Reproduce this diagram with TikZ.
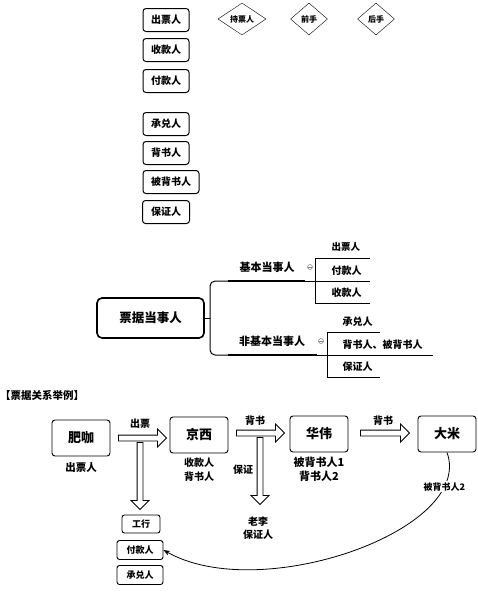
\documentclass[tikz,border=0pt]{standalone}
\usepackage{fontspec}
\setmainfont{Noto Sans CJK SC}
\usetikzlibrary{positioning, shapes.geometric, shapes.arrows, arrows.meta}
\tikzset{
    x=1pt, y=-1pt, % one unit is one pixel of the reference, y runs down
    every node/.style={font=\fontsize{10}{13}\selectfont\bfseries}, % bold sans for every text
    role/.style={draw, line width=1pt, rounded corners=3pt, minimum width=46pt, minimum height=23pt, inner sep=1pt}, % boxes of the list on top
    gate/.style={draw, diamond, aspect=1.5, inner sep=1pt, minimum height=32pt, font=\fontsize{8}{10}\selectfont\bfseries}, % the three diamonds
    party/.style={draw, line width=0.9pt, rounded corners=3pt, minimum width=58pt, minimum height=36pt, font=\fontsize{13}{15}\selectfont\bfseries}, % parties of the example
    small/.style={draw, line width=0.9pt, rounded corners=2.5pt, minimum width=46pt, minimum height=19pt, inner sep=1pt, font=\fontsize{9}{11}\selectfont\bfseries}, % boxes under the first arrow
    hollow/.style={draw, fill=white, single arrow, line width=0.8pt, inner xsep=0pt, inner ysep=2.5pt, single arrow head extend=6pt, single arrow head indent=0pt}, % open block arrows
    knob/.style={draw=gray, circle, line width=0.5pt, inner sep=0pt, minimum size=5pt}, % small collapse marks
    >=Stealth, % arrow head of the curve
}
\begin{document}
\begin{tikzpicture}
\useasboundingbox (0,0) rectangle (478,592);

\node[role] (r1) at (166,20) {出票人};
\node[role] (r2) at (166,50) {收款人};
\node[role] (r3) at (166,81) {付款人};
\node[role] (r4) at (166,124) {承兑人};
\node[role] (r5) at (166,153) {背书人};
\node[role, minimum width=56pt] (r6) at (171,182) {被背书人};
\node[role, minimum width=47pt] (r7) at (166,212) {保证人};

\node[gate, minimum width=48pt] (g1) at (242,19) {持票人};
\node[gate, minimum width=37pt] (g2) at (309,19) {前手};
\node[gate, minimum width=37pt] (g3) at (376,19) {后手};

\node[draw, line width=1.6pt, rounded corners=5pt, minimum width=107pt, minimum height=40pt, font=\fontsize{12.5}{15}\selectfont\bfseries] (root) at (150.5,318) {票据当事人};
\node[font=\fontsize{11}{13}\selectfont\bfseries] (k1) at (267,267) {基本当事人};
\node[font=\fontsize{11}{13}\selectfont\bfseries] (k2) at (272,341) {非基本当事人};
\node[knob] (m1) at (310,267) {};
\node[knob] (m2) at (321,341) {};
\draw[gray, line width=0.5pt] ([xshift=1pt]m1.west) -- ([xshift=-1pt]m1.east) ([xshift=1pt]m2.west) -- ([xshift=-1pt]m2.east);
\coordinate (t1) at (228,281);
\coordinate (t2) at (228,355);
\draw[line width=1pt] (root.east) -- (210,318);
\draw[line width=1pt, rounded corners=5pt] (t1) -- (210,281) -- (210,355) -- (t2);
\draw[line width=1.8pt] (t1) -- (305,281);
\draw[line width=1.8pt] (t2) -- (317,355);

\node[anchor=west, font=\fontsize{9.5}{11}\selectfont\bfseries] (s1) at (328,247) {出票人};
\node[anchor=west] (s2) at (328,271) {付款人};
\node[anchor=west] (s3) at (328,293) {收款人};
\draw[line width=1pt] (370,258) -- (315,258) -- (315,303) -- (370,303);
\draw[line width=1pt] (305,281) -- (370,281);
\node[anchor=west] (s4) at (339,322) {承兑人};
\node[anchor=west] (s5) at (339,345) {背书人、被背书人};
\node[anchor=west] (s6) at (339,367) {保证人};
\draw[line width=1pt] (380,332) -- (327,332) -- (327,377) -- (380,377);
\draw[line width=1pt] (317,355) -- (433,355);

\node[anchor=west, inner sep=0pt, font=\fontsize{10.5}{13}\selectfont\bfseries] (title) at (0,395) {【票据关系举例】};

\node[party] (p1) at (81,438) {肥咖};
\node[party] (p2) at (199,435) {京西};
\node[party] (p3) at (319,434) {华伟};
\node[party] (p4) at (447,434) {大米};
\node[below=3pt of p1, font=\fontsize{10.5}{13}\selectfont\bfseries] (l1) {出票人};
\node[below=1pt of p2, align=center, font=\fontsize{10}{14}\selectfont\bfseries] (l2) {收款人\\背书人};
\node[below=1pt of p3, align=center, font=\fontsize{11}{14}\selectfont\bfseries] (l3) {被背书人1\\背书人2};

\node[hollow, minimum height=48pt] (a1) at (141,438) {};
\node[hollow, minimum height=67pt, rotate=-90] (a2) at (140,474.5) {};
\node[hollow, minimum height=48pt] (a3) at (259,433) {};
\node[hollow, minimum height=67pt, rotate=-90] (a4) at (260,469.5) {};
\node[hollow, minimum height=49pt] (a5) at (383.5,433) {};
\node (n1) at (140,424) {出票};
\node (n2) at (255,421) {背书};
\node (n3) at (383,421) {背书};
\node (n4) at (243,470) {保证};
\node[align=center, font=\fontsize{10}{13}\selectfont\bfseries] (l4) at (258,528) {老李\\保证人};

\node[small, minimum width=38pt, minimum height=18pt] (b1) at (141,524) {工行};
\node[small] (b2) at (140,550) {付款人};
\node[small] (b3) at (140,575) {承兑人};

\draw[->, line width=0.8pt] (p4.south) .. controls (475,530) and (260,605) .. (b2.east)
    node[pos=0.15, fill=white, inner sep=1pt, font=\fontsize{9}{11}\selectfont\bfseries] (l5) {被背书人2};
\end{tikzpicture}
\end{document}
